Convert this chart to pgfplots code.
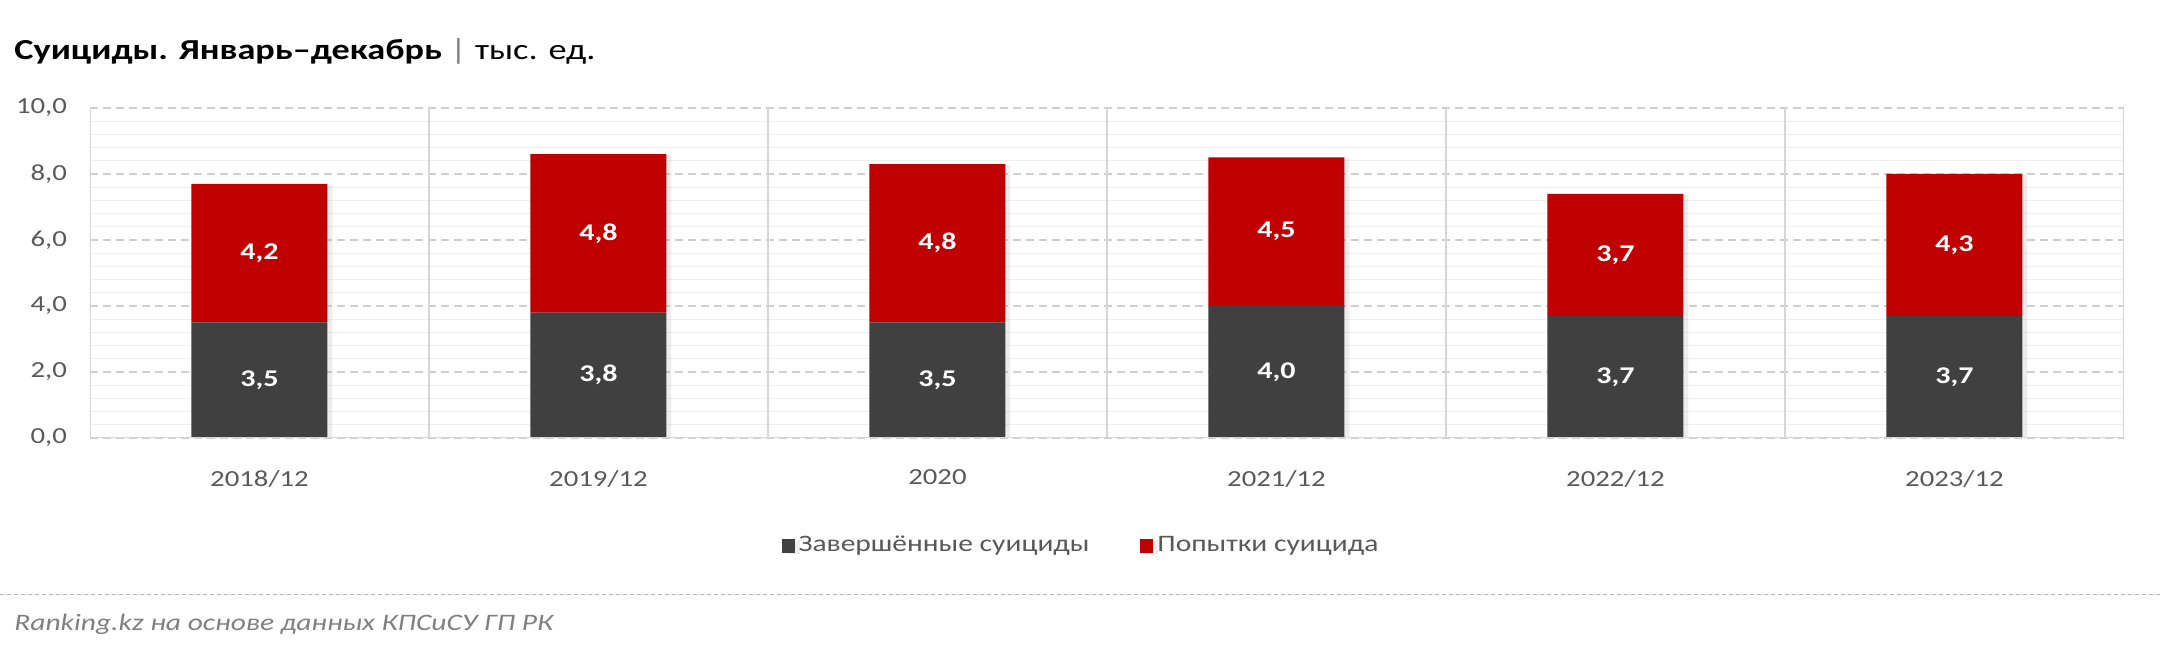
\documentclass[border=0pt]{standalone}
\usepackage{fontspec}
\setmainfont{Carlito}[FakeStretch=1.25]
\usepackage{pgfplots}
\usepackage{pgfplotstable}
\pgfplotsset{compat=1.18}
\usetikzlibrary{shadows}
\definecolor{dark}{HTML}{404040}
\definecolor{redc}{HTML}{C00000}
\definecolor{txtgray}{HTML}{595959}
\definecolor{gridc}{HTML}{CFCFCF}
\definecolor{minorc}{HTML}{EFEFEF}
\definecolor{sepc}{HTML}{D6D6D6}
\definecolor{footc}{HTML}{808080}
\pgfplotsset{sqlegend/.style={legend image code/.code={\fill[##1] (0pt,-3.5pt) rectangle (6.5pt,3.5pt);}}}
\pgfplotstableread{
x done att
0 3.5 4.2
1 3.8 4.8
2 3.5 4.8
3 4.0 4.5
4 3.7 3.7
5 3.7 4.3
}\datatable
\begin{document}
\begin{tikzpicture}
\useasboundingbox (0pt,0pt) rectangle (1080pt,325.5pt);
\node[anchor=west, inner sep=0pt, font=\fontsize{14.5}{16}\selectfont] at (7pt,300pt) {\textbf{Суициды. Январь–декабрь} {\color{gray}|} тыс. ед.};
\draw[footc!60, dash pattern=on 2pt off 1.5pt, line width=0.5pt] (0pt,28pt) -- (1080pt,28pt);
\node[anchor=west, inner sep=0pt, font=\fontsize{11.8}{14}\selectfont\itshape, text=footc] at (7pt,13.5pt) {Ranking.kz на основе данных КПСиСУ ГП РК};
\begin{axis}[
  at={(45pt,106.5pt)}, anchor=south west, scale only axis,
  width=1017pt, height=165pt,
  ybar stacked, bar width=68pt,
  xmin=-0.5, xmax=5.5, ymin=0, ymax=10,
  xtick={0,...,5},
  xticklabels={2018/12,2019/12,2020,2021/12,2022/12,2023/12},
  extra x ticks={0.5,1.5,2.5,3.5,4.5},
  extra x tick labels={},
  extra x tick style={grid=major, major grid style={solid, draw=sepc, line width=0.6pt}},
  ytick={0,2,...,10},
  minor y tick num=4,
  ymajorgrids, yminorgrids,
  major grid style={draw=gridc, dash pattern=on 4pt off 2.5pt, line width=0.6pt},
  minor grid style={draw=minorc, solid, line width=0.6pt},
  major tick length=0pt, minor tick length=0pt,
  tick style={draw=none},
  axis line style={draw=none},
  /pgf/number format/.cd, fixed, fixed zerofill, precision=1, use comma, assume math mode=true,
  /pgfplots/.cd,
  yticklabel style={font=\fontsize{11.5}{13}\selectfont, text=txtgray, xshift=-8pt},
  xticklabel style={font=\fontsize{11.5}{13}\selectfont, text=txtgray, yshift=-12.5pt},
  legend style={draw=none, legend columns=2, at={(0.4877,-0.326)}, anchor=center,
     font=\fontsize{11.8}{13}\selectfont, text=txtgray,
     /tikz/every even column/.append style={column sep=23.5pt}},
  point meta=explicit,
  nodes near coords,
  every node near coord/.append style={font=\fontsize{12}{13}\selectfont\bfseries, text=white, anchor=center},
]
\draw[sepc, line width=0.6pt] (rel axis cs:0,1) -- (rel axis cs:0,0) -- (rel axis cs:1,0) -- (rel axis cs:1,1);
\addplot[fill=dark, draw=none, sqlegend, drop shadow={shadow xshift=2.5pt, shadow yshift=-0.5pt, opacity=0.14}] table[x=x, y=done, meta=done] {\datatable};
\addplot[fill=redc, draw=none, sqlegend, drop shadow={shadow xshift=2.5pt, shadow yshift=-0.5pt, opacity=0.14}] table[x=x, y=att, meta=att] {\datatable};
\legend{Завершённые суициды, Попытки суицида}
\end{axis}
\end{tikzpicture}
\end{document}
